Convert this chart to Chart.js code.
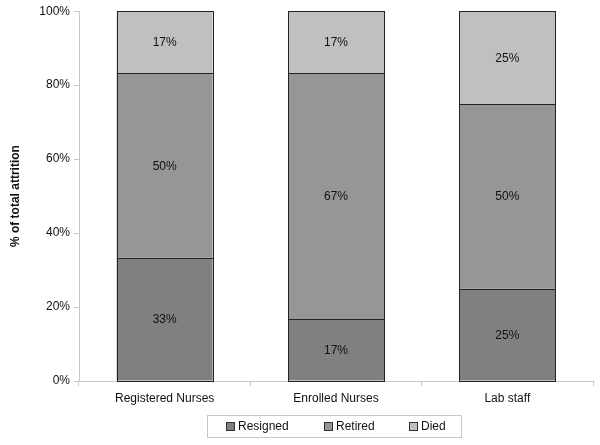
<!DOCTYPE html>
<html>
<head>
<meta charset="utf-8">
<script src="https://cdn.jsdelivr.net/npm/chart.js@4/dist/chart.umd.min.js"></script>
<style>
html,body{margin:0;padding:0;background:#fff;}
canvas{display:block;}
</style>
</head>
<body>
<canvas id="c" width="600" height="445"></canvas>
<script>
const categories = ["Registered Nurses", "Enrolled Nurses", "Lab staff"];
const resigned = [33.33, 16.67, 25];
const retired = [50, 66.67, 50];
const died = [16.67, 16.67, 25];
const yTicks = [0, 20, 40, 60, 80, 100];

const FONT = "'Liberation Sans', Arial, sans-serif";

// crisp 1px outlines around every bar segment + centred percentage labels
const labelPlugin = {
  id: 'segLabels',
  afterDatasetsDraw(chart) {
    const ctx = chart.ctx;
    ctx.save();
    ctx.strokeStyle = '#222';
    ctx.lineWidth = 1;
    chart.data.datasets.forEach((ds, i) => {
      chart.getDatasetMeta(i).data.forEach(bar => {
        const p = bar.getProps(['x', 'y', 'base', 'width'], true);
        const l = Math.round(p.x - p.width / 2), r = Math.round(p.x + p.width / 2);
        const t = Math.round(Math.min(p.y, p.base)), b = Math.round(Math.max(p.y, p.base));
        ctx.strokeRect(l + 0.5, t + 0.5, r - l, b - t);
      });
    });
    ctx.font = "12px " + FONT;
    ctx.fillStyle = '#111';
    ctx.textAlign = 'center';
    ctx.textBaseline = 'middle';
    chart.data.datasets.forEach((ds, i) => {
      chart.getDatasetMeta(i).data.forEach((bar, j) => {
        const mid = (bar.y + bar.base) / 2;
        ctx.fillText(Math.round(ds.data[j]) + '%', bar.x, mid + 1);
      });
    });
    ctx.restore();
  }
};

// legend drawn below the x axis, centred on the plot area, inside a light frame
const customLegend = {
  id: 'customLegend',
  afterDraw(chart) {
    const ctx = chart.ctx;
    const area = chart.chartArea;
    const xScale = chart.scales.x;
    ctx.save();
    ctx.font = "12px " + FONT;
    const box = 9, gapText = 3, gapItem = 35;
    const items = chart.data.datasets.map(ds => ({
      label: ds.label, color: ds.backgroundColor,
      w: box + gapText + ctx.measureText(ds.label).width
    }));
    const total = items.reduce((s, it) => s + it.w, 0) + gapItem * (items.length - 1);
    const cx = (area.left + area.right) / 2;
    let x = Math.round(cx - total / 2);
    const top = Math.round(xScale.bottom) + 4;
    const h = 22;
    const cy = top + h / 2;
    ctx.strokeStyle = '#c8c8c8';
    ctx.lineWidth = 1;
    ctx.strokeRect(x - 19 + 0.5, top + 0.5, Math.round(total) + 34, h);
    ctx.textBaseline = 'middle';
    ctx.textAlign = 'left';
    items.forEach(it => {
      const by = Math.round(cy - box / 2);
      const bx = Math.round(x);
      ctx.fillStyle = it.color;
      ctx.fillRect(bx, by, box, box);
      ctx.strokeStyle = '#333';
      ctx.strokeRect(bx + 0.5, by + 0.5, box - 1, box - 1);
      ctx.fillStyle = '#111';
      ctx.fillText(it.label, bx + box + gapText, cy + 1);
      x += it.w + gapItem;
    });
    ctx.restore();
  }
};

new Chart(document.getElementById('c'), {
  type: 'bar',
  data: {
    labels: categories,
    datasets: [
      { label: 'Resigned', data: resigned, backgroundColor: '#808080' },
      { label: 'Retired', data: retired, backgroundColor: '#969696' },
      { label: 'Died', data: died, backgroundColor: '#c0c0c0' }
    ].map(d => Object.assign(d, {
      borderWidth: 0, inflateAmount: 0,
      categoryPercentage: 1, barPercentage: 0.56
    }))
  },
  options: {
    responsive: false,
    animation: false,
    layout: { padding: { top: 9, right: 7, left: 0, bottom: 34 } },
    scales: {
      x: {
        stacked: true,
        offset: true,
        grid: { offset: true, drawOnChartArea: false, tickLength: 5, color: '#c8c8c8' },
        border: { color: '#c8c8c8' },
        ticks: { color: '#111', font: { family: FONT, size: 12 }, padding: 5 },
        afterFit(s) { s.height = 30; }
      },
      y: {
        stacked: true,
        min: 0, max: 100,
        afterBuildTicks(s) { s.ticks = yTicks.map(v => ({ value: v })); },
        grid: { drawOnChartArea: false, tickLength: 5, color: '#c8c8c8' },
        border: { color: '#c8c8c8' },
        ticks: { color: '#111', font: { family: FONT, size: 12 }, padding: 4, callback: v => v + '%' },
        title: { display: true, text: '% of total attrition', color: '#111', font: { family: FONT, size: 12, weight: 'bold' }, padding: { top: 8, bottom: 0 } },
        afterFit(s) { s.width = 79; }
      }
    },
    plugins: {
      legend: { display: false },
      tooltip: { enabled: false }
    }
  },
  plugins: [labelPlugin, customLegend]
});
</script>
</body>
</html>
